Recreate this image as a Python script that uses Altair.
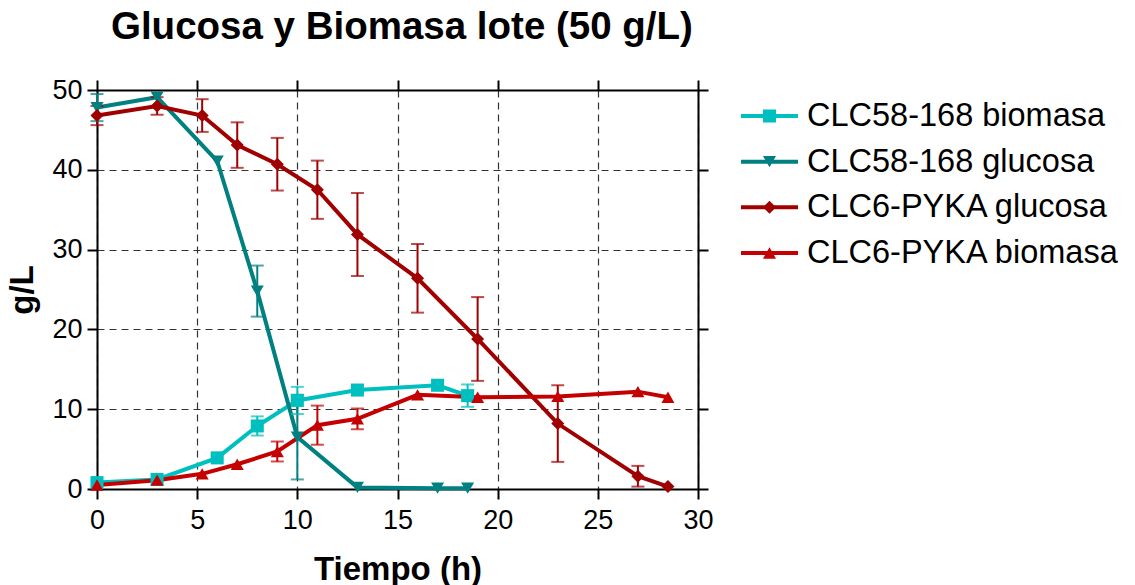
import altair as alt
import pandas as pd

# Series definitions (legend order)
series_names = ["CLC58-168 biomasa", "CLC58-168 glucosa", "CLC6-PYKA glucosa", "CLC6-PYKA biomasa"]
series_colors = ["#00BFBF", "#008080", "#A00000", "#C40000"]
series_shapes = ["square", "triangle-down", "diamond", "triangle-up"]

# CLC58-168 time points (h)
t_clc58 = [0, 3, 6, 8, 10, 13, 17, 18.5]
bio_clc58 = [0.8, 1.2, 3.9, 7.9, 11.1, 12.4, 13.0, 11.7]
bio_clc58_err = [0, 0, 0, 1.2, 1.7, 0, 0, 1.4]
glu_clc58 = [47.8, 49.1, 41.1, 24.8, 6.5, 0.2, 0.1, 0.1]
glu_clc58_err = [1.7, 0, 0, 3.2, 5.3, 0, 0, 0]

# CLC6-PYKA time points (h)
t_pyka = [0, 3, 5.25, 7, 9, 11, 13, 16, 19, 23, 27, 28.5]
glu_pyka = [46.8, 48.0, 46.8, 43.1, 40.7, 37.5, 31.9, 26.4, 18.8, 8.2, 1.6, 0.3]
glu_pyka_err = [1.2, 1.1, 2.05, 2.85, 3.3, 3.65, 5.2, 4.3, 5.25, 4.8, 1.3, 0]
bio_pyka = [0.5, 1.1, 1.9, 3.1, 4.7, 8.0, 8.8, 11.8, 11.5, 11.6, 12.2, 11.5]
bio_pyka_err = [0, 0, 0, 0, 1.25, 2.45, 1.3, 0, 0, 0, 0, 0]

x_ticks = [0, 5, 10, 15, 20, 25, 30]
y_ticks = [0, 10, 20, 30, 40, 50]


def series_frame(name, t, v, e):
    return pd.DataFrame({"serie": name, "t": t, "v": v, "e": e})


df = pd.concat([
    series_frame(series_names[0], t_clc58, bio_clc58, bio_clc58_err),
    series_frame(series_names[1], t_clc58, glu_clc58, glu_clc58_err),
    series_frame(series_names[2], t_pyka, glu_pyka, glu_pyka_err),
    series_frame(series_names[3], t_pyka, bio_pyka, bio_pyka_err),
], ignore_index=True)
df["lo"] = df["v"] - df["e"]
df["hi"] = df["v"] + df["e"]
err = df[df["e"] > 0]

FONT = "Liberation Sans"
LINE_W = 4
MARK_SIZE = 170

color = alt.Color("serie:N", scale=alt.Scale(domain=series_names, range=series_colors), legend=None)
shape = alt.Shape("serie:N", scale=alt.Scale(domain=series_names, range=series_shapes), legend=None)

x_scale = alt.Scale(domain=[0, 30], nice=False, zero=False)
y_scale = alt.Scale(domain=[0, 50], nice=False)

grid_style = dict(grid=True, gridColor="#333333", gridDash=[7, 5], gridWidth=1.2)

x_bottom = alt.X("t:Q", scale=x_scale, axis=alt.Axis(
    values=x_ticks, title="Tiempo (h)", labelFlush=False, labelOverlap=False,
    titlePadding=20, labelPadding=8, **grid_style))
y_left = alt.Y("v:Q", scale=y_scale, axis=alt.Axis(
    values=y_ticks, title="g/L", labelFlush=False, labelOverlap=False,
    titlePadding=12, labelPadding=5, **grid_style))

x_top = alt.X("t:Q", scale=x_scale, axis=alt.Axis(
    orient="top", values=x_ticks, labels=False, title=None, grid=False))
y_right = alt.Y("lo:Q", scale=y_scale, axis=alt.Axis(
    orient="right", values=y_ticks, labels=False, title=None, grid=False))

lines = alt.Chart(df).mark_line(strokeWidth=LINE_W).encode(
    x=x_bottom, y=y_left, color=color, detail="serie:N")

err_rules = alt.Chart(err).mark_rule(strokeWidth=2).encode(
    x=x_top, y=y_right, y2="hi:Q", color=color)

cap_lo = alt.Chart(err).mark_tick(orient="horizontal", size=13, thickness=2).encode(
    x=alt.X("t:Q", scale=x_scale, axis=None),
    y=alt.Y("lo:Q", scale=y_scale, axis=None), color=color)
cap_hi = alt.Chart(err).mark_tick(orient="horizontal", size=13, thickness=2).encode(
    x=alt.X("t:Q", scale=x_scale, axis=None),
    y=alt.Y("hi:Q", scale=y_scale, axis=None), color=color)

points = alt.Chart(df).mark_point(filled=True, size=MARK_SIZE, opacity=1).encode(
    x=alt.X("t:Q", scale=x_scale, axis=None),
    y=alt.Y("v:Q", scale=y_scale, axis=None),
    color=color, shape=shape)

main = alt.layer(err_rules, lines, cap_lo, cap_hi, points).resolve_axis(
    x="independent", y="independent").properties(width=601, height=399)

# Legend panel: line sample with marker, followed by the series label
leg_df = pd.DataFrame({"serie": series_names})
leg_y = alt.Y("serie:N", scale=alt.Scale(type="point", domain=series_names, range=[26, 163], padding=0), axis=None)

leg_line = alt.Chart(leg_df).mark_rule(strokeWidth=LINE_W).encode(
    x=alt.value(0), x2=alt.value(57), y=leg_y, color=color)
leg_mark = alt.Chart(leg_df).mark_point(filled=True, size=MARK_SIZE, opacity=1).encode(
    x=alt.value(28.5), y=leg_y, color=color, shape=shape)
leg_text = alt.Chart(leg_df).mark_text(align="left", baseline="middle", font=FONT, fontSize=32.5, color="black").encode(
    x=alt.value(66), y=leg_y, text="serie:N")

legend = alt.layer(leg_line, leg_mark, leg_text).properties(width=380, height=399)

chart = alt.hconcat(main, legend, spacing=43, bounds="flush").properties(
    title=alt.TitleParams("Glucosa y Biomasa lote (50 g/L)", font=FONT, fontSize=38.5, fontWeight="bold",
                          anchor="start", dx=104, offset=29, color="black"),
    padding={"left": 6, "top": 7, "right": 0, "bottom": 0},
    background="white",
).configure_view(stroke=None).configure_axis(
    domainColor="black", domainWidth=2, tickColor="black", tickWidth=2, tickSize=10,
    labelFont=FONT, labelFontSize=27, labelColor="black",
    titleFont=FONT, titleFontSize=33, titleFontWeight="bold", titleColor="black",
)

chart.save("out.html", embed_options={"renderer": "svg", "actions": False})
